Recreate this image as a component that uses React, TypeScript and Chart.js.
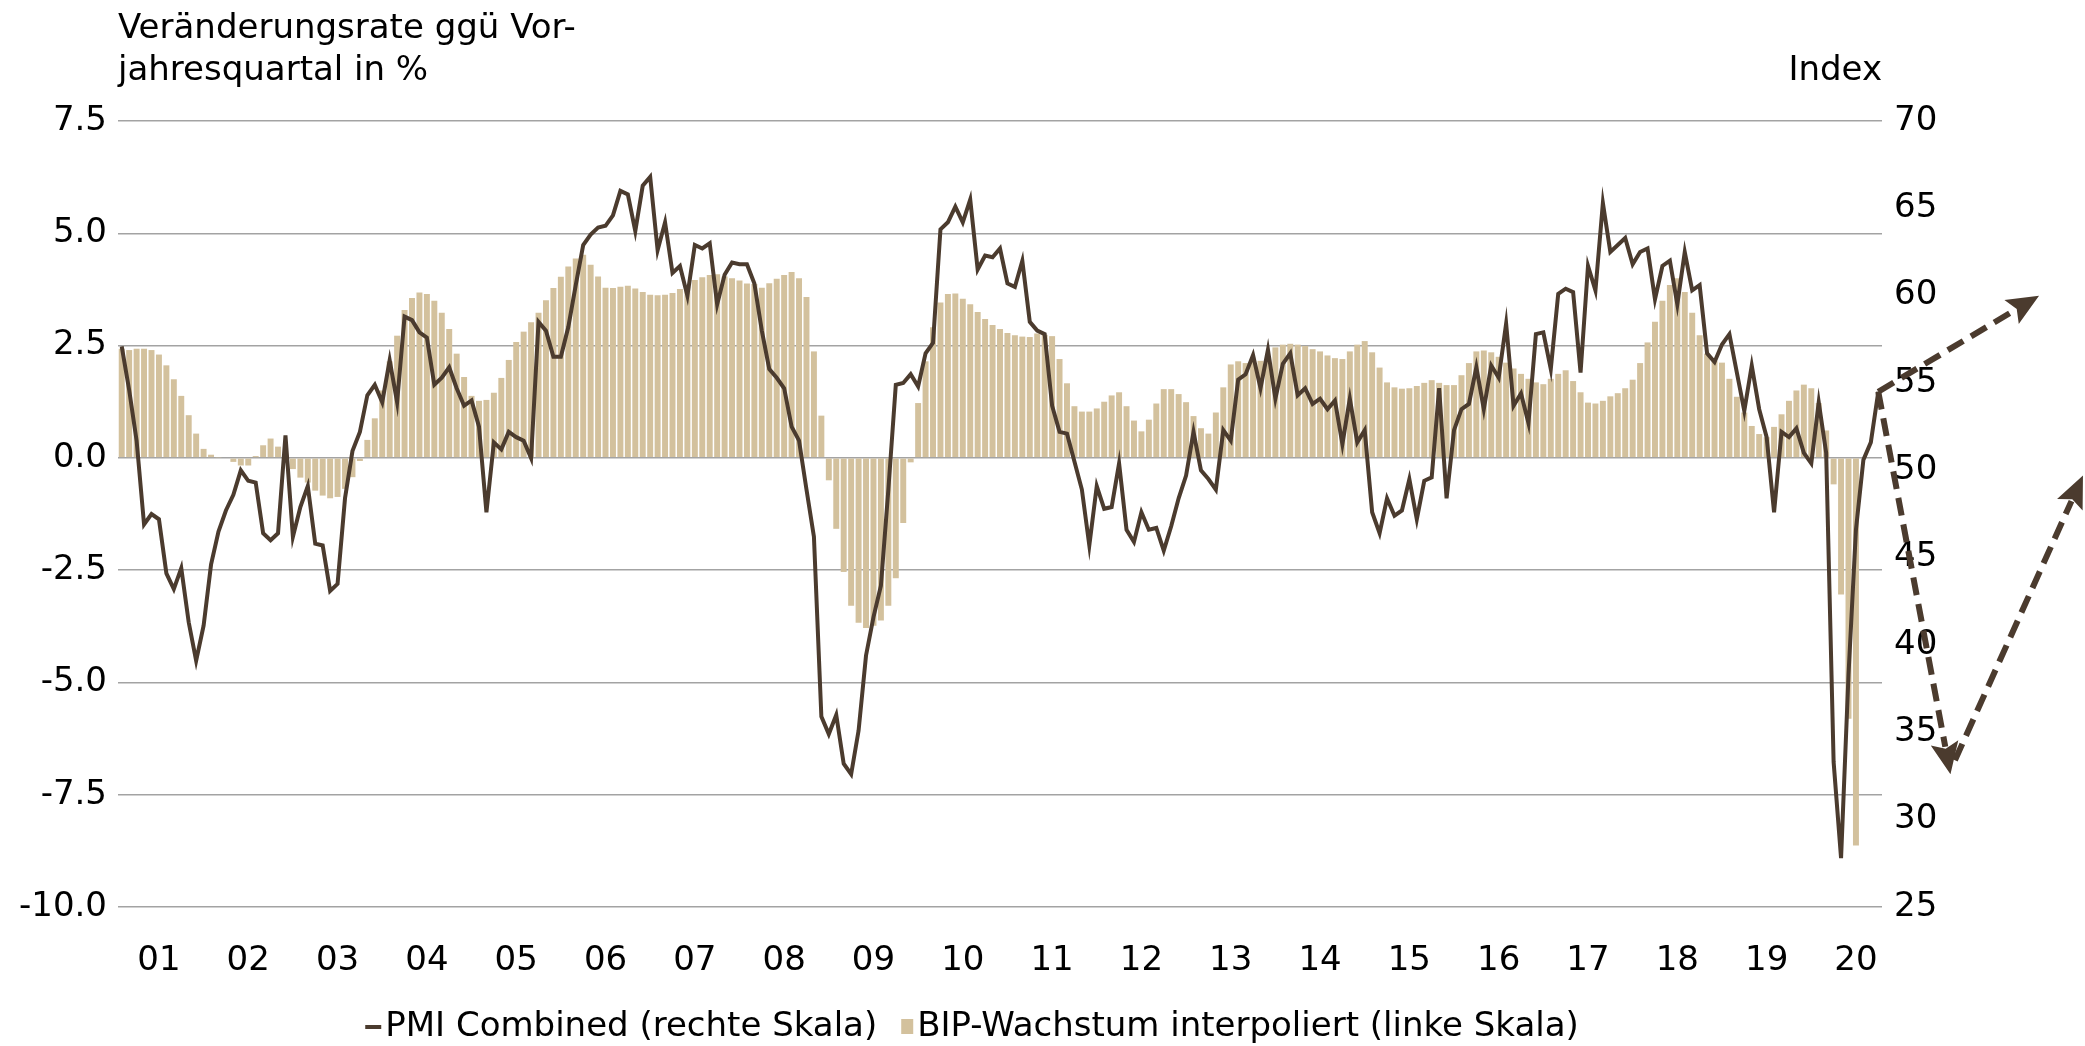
import React, { useEffect, useRef } from 'react';
import { Chart, registerables } from 'chart.js';

Chart.register(...registerables);

// ---------------- data ----------------
const yearLabels = ['01', '02', '03', '04', '05', '06', '07', '08', '09', '10', '11', '12', '13', '14', '15', '16', '17', '18', '19', '20'];

// BIP-Wachstum interpoliert (linke Skala), monthly from Jan 2001
const bipGrowth = [
  2.43, 2.40, 2.43, 2.43, 2.40, 2.30, 2.06, 1.75, 1.38, 0.95, 0.54, 0.20,
  0.07, 0.01, 0.00, -0.09, -0.17, -0.17, 0.04, 0.28, 0.43, 0.25, -0.05, -0.25,
  -0.44, -0.55, -0.73, -0.84, -0.90, -0.87, -0.69, -0.43, -0.07, 0.40, 0.88, 1.50,
  2.15, 2.72, 3.29, 3.56, 3.68, 3.65, 3.50, 3.23, 2.87, 2.32, 1.80, 1.38,
  1.27, 1.29, 1.45, 1.78, 2.18, 2.58, 2.81, 3.02, 3.23, 3.51, 3.78, 4.03,
  4.26, 4.44, 4.52, 4.30, 4.04, 3.79, 3.78, 3.81, 3.83, 3.77, 3.69, 3.63,
  3.62, 3.63, 3.67, 3.76, 3.82, 3.96, 4.02, 4.07, 4.09, 4.04, 4.00, 3.95,
  3.88, 3.87, 3.79, 3.89, 3.99, 4.07, 4.14, 4.00, 3.58, 2.37, 0.94, -0.50,
  -1.58, -2.54, -3.29, -3.67, -3.79, -3.74, -3.62, -3.29, -2.68, -1.45, -0.10, 1.22,
  2.15, 2.91, 3.46, 3.65, 3.66, 3.54, 3.42, 3.25, 3.09, 2.96, 2.87, 2.78,
  2.73, 2.70, 2.69, 2.77, 2.74, 2.71, 2.20, 1.66, 1.15, 1.03, 1.03, 1.10,
  1.25, 1.39, 1.46, 1.15, 0.83, 0.59, 0.85, 1.21, 1.53, 1.53, 1.42, 1.24,
  0.93, 0.66, 0.54, 1.01, 1.57, 2.08, 2.15, 2.11, 2.15, 2.16, 2.23, 2.46,
  2.52, 2.54, 2.52, 2.49, 2.42, 2.37, 2.28, 2.22, 2.20, 2.37, 2.52, 2.60,
  2.35, 2.01, 1.68, 1.57, 1.54, 1.55, 1.60, 1.67, 1.73, 1.67, 1.62, 1.62,
  1.84, 2.11, 2.37, 2.39, 2.35, 2.25, 2.12, 1.99, 1.87, 1.76, 1.68, 1.64,
  1.76, 1.87, 1.95, 1.71, 1.46, 1.23, 1.21, 1.27, 1.37, 1.44, 1.55, 1.74,
  2.11, 2.57, 3.03, 3.50, 3.85, 4.00, 3.69, 3.23, 2.73, 2.32, 2.16, 2.12,
  1.76, 1.36, 1.01, 0.71, 0.53, 0.46, 0.69, 0.97, 1.27, 1.50, 1.63, 1.55,
  1.22, 0.61, -0.59, -3.04, -5.81, -8.63,
];

// PMI Combined (rechte Skala), monthly from Jan 2001
const pmiCombined = [
  57.1, 54.6, 51.7, 46.9, 47.5, 47.2, 44.1, 43.2, 44.4, 41.3, 39.1, 41.1,
  44.6, 46.5, 47.7, 48.6, 50.0, 49.4, 49.3, 46.4, 46.0, 46.4, 52.0, 46.2,
  47.9, 49.1, 45.8, 45.7, 43.1, 43.5, 48.4, 51.1, 52.2, 54.3, 54.9, 53.9,
  56.3, 53.9, 58.8, 58.6, 57.9, 57.6, 54.9, 55.3, 55.9, 54.7, 53.7, 54.0,
  52.5, 47.6, 51.6, 51.2, 52.2, 51.9, 51.7, 50.7, 58.5, 58.0, 56.5, 56.5,
  58.2, 60.6, 62.9, 63.5, 63.9, 64.0, 64.6, 66.0, 65.8, 63.7, 66.3, 66.8,
  62.6, 64.2, 61.3, 61.7, 60.0, 62.9, 62.7, 63.0, 59.5, 61.2, 61.9, 61.8,
  61.8, 60.7, 58.0, 55.8, 55.3, 54.7, 52.5, 51.7, 48.9, 46.2, 35.9, 34.9,
  36.0, 33.2, 32.6, 35.1, 39.4, 41.6, 43.4, 48.9, 54.9, 55.0, 55.5, 54.8,
  56.7, 57.3, 63.8, 64.2, 65.1, 64.2, 65.5, 61.5, 62.3, 62.2, 62.7, 60.7,
  60.5, 62.0, 58.5, 58.0, 57.8, 53.7, 52.2, 52.1, 50.5, 48.9, 45.7, 49.1,
  47.8, 47.9, 50.4, 46.6, 45.9, 47.6, 46.6, 46.7, 45.4, 46.8, 48.4, 49.7,
  52.2, 50.0, 49.5, 48.9, 52.3, 51.7, 55.2, 55.5, 56.6, 54.7, 56.9, 54.1,
  56.1, 56.7, 54.3, 54.7, 53.8, 54.1, 53.5, 54.0, 51.5, 54.1, 51.6, 52.3,
  47.6, 46.4, 48.4, 47.4, 47.7, 49.5, 47.2, 49.4, 49.6, 54.7, 48.4, 52.3,
  53.5, 53.8, 55.9, 53.5, 56.0, 55.3, 58.4, 53.7, 54.4, 52.7, 57.8, 57.9,
  55.8, 60.1, 60.4, 60.2, 55.6, 61.7, 60.3, 65.3, 62.5, 62.9, 63.3, 61.8,
  62.5, 62.7, 59.8, 61.7, 62.0, 59.5, 62.5, 60.3, 60.6, 56.7, 56.2, 57.2,
  57.8, 55.6, 53.4, 56.0, 53.5, 51.9, 47.6, 52.2, 51.9, 52.4, 51.0, 50.4,
  53.9, 51.0, 33.3, 27.8, 38.3, 46.6, 50.6, 51.6, 54.5,
];

const leftTicks = [-10, -7.5, -5, -2.5, 0, 2.5, 5, 7.5];
const rightTicks = [25, 30, 35, 40, 45, 50, 55, 60, 65, 70];

// Szenario-Pfeile: [Monatsindex, Indexwert] (rechte Skala)
const scenarioArrows = [
  { from: [236, 54.5], to: [257.6, 60.0] },
  { from: [236, 54.5], to: [245.7, 32.6] },
  { from: [246.3, 33.4], to: [263.5, 49.7] },
];

const titleLines = ['Veränderungsrate ggü Vor-', 'jahresquartal in %'];
const rightAxisTitle = 'Index';
const legendItems = ['PMI Combined (rechte Skala)', 'BIP-Wachstum interpoliert (linke Skala)'];

// ---------------- style ----------------
const W = 2085;
const H = 1046;
const FONT = '"DejaVu Sans", sans-serif';
const LINE_COLOR = '#4b3b2e';
const BAR_COLOR = '#d3c19d';
const GRID_COLOR = '#a3a3a3';

const overlayPlugin = {
  id: 'overlay',
  afterDraw(chart: any) {
    const { ctx, scales, chartArea } = chart;
    const xs = scales.x;
    const ys = scales.y1;
    ctx.save();

    // titles
    ctx.fillStyle = '#000';
    ctx.font = `34px ${FONT}`;
    ctx.textBaseline = 'alphabetic';
    ctx.textAlign = 'left';
    ctx.fillText(titleLines[0], chartArea.left, 38);
    ctx.fillText(titleLines[1], chartArea.left, 80);
    ctx.textAlign = 'right';
    ctx.fillText(rightAxisTitle, chartArea.right, 80);

    // legend
    ctx.font = `34px ${FONT}`;
    ctx.textAlign = 'left';
    ctx.textBaseline = 'middle';
    const lineMarkW = 16;
    const boxMarkW = 12;
    const gapMark = 4;
    const gapItems = 24;
    const w1 = ctx.measureText(legendItems[0]).width;
    const w2 = ctx.measureText(legendItems[1]).width;
    const total = lineMarkW + gapMark + w1 + gapItems + boxMarkW + gapMark + w2;
    const cy = 1027;
    let lx = 972 - total / 2;
    ctx.fillStyle = LINE_COLOR;
    ctx.fillRect(lx, cy - 2, lineMarkW, 4);
    lx += lineMarkW + gapMark;
    ctx.fillStyle = '#000';
    ctx.fillText(legendItems[0], lx, cy);
    lx += w1 + gapItems;
    ctx.fillStyle = BAR_COLOR;
    ctx.fillRect(lx, cy - 8, boxMarkW, 15);
    lx += boxMarkW + gapMark;
    ctx.fillStyle = '#000';
    ctx.fillText(legendItems[1], lx, cy);

    // scenario arrows
    ctx.strokeStyle = LINE_COLOR;
    ctx.fillStyle = LINE_COLOR;
    ctx.lineWidth = 6;
    ctx.lineCap = 'butt';
    const headLen = 32;
    const headW = 28;
    for (const a of scenarioArrows) {
      const x0 = xs.getPixelForValue(a.from[0]);
      const y0 = ys.getPixelForValue(a.from[1]);
      const x1 = xs.getPixelForValue(a.to[0]);
      const y1 = ys.getPixelForValue(a.to[1]);
      const ang = Math.atan2(y1 - y0, x1 - x0);
      const c = Math.cos(ang);
      const s = Math.sin(ang);
      const bx = x1 - headLen * c;
      const by = y1 - headLen * s;
      ctx.setLineDash([18, 9]);
      ctx.beginPath();
      ctx.moveTo(x0, y0);
      ctx.lineTo(bx + 4 * c, by + 4 * s);
      ctx.stroke();
      ctx.setLineDash([]);
      ctx.beginPath();
      ctx.moveTo(x1, y1);
      ctx.lineTo(bx - (headW / 2) * s, by + (headW / 2) * c);
      ctx.lineTo(bx + 6 * c, by + 6 * s);
      ctx.lineTo(bx + (headW / 2) * s, by - (headW / 2) * c);
      ctx.closePath();
      ctx.fill();
    }
    ctx.restore();
  },
};

export default function App() {
  const canvasRef = useRef<HTMLCanvasElement | null>(null);

  useEffect(() => {
    const canvas = canvasRef.current;
    if (!canvas) return;
    const barData = bipGrowth.map((v, i) => ({ x: i, y: v }));
    const lineData = pmiCombined.map((v, i) => ({ x: i, y: v }));
    const nMonths = pmiCombined.length;

    const chart = new Chart(canvas, {
      type: 'bar',
      data: {
        datasets: [
          {
            type: 'line',
            label: legendItems[0],
            data: lineData as any,
            yAxisID: 'y1',
            borderColor: LINE_COLOR,
            borderWidth: 4,
            pointRadius: 0,
            tension: 0,
            order: 0,
          } as any,
          {
            type: 'bar',
            label: legendItems[1],
            data: barData as any,
            yAxisID: 'y',
            backgroundColor: BAR_COLOR,
            borderWidth: 0,
            barPercentage: 0.8,
            categoryPercentage: 1.0,
            order: 1,
          } as any,
        ],
      },
      options: {
        animation: false,
        responsive: false,
        devicePixelRatio: 1,
        layout: { padding: { top: 121, bottom: 0, left: 0, right: 0 } },
        plugins: {
          legend: { display: false },
          title: { display: false },
          tooltip: { enabled: false },
        },
        scales: {
          x: {
            type: 'linear',
            offset: false,
            min: -0.5,
            max: nMonths - 0.5,
            grid: { display: false, offset: false },
            border: { display: false },
            afterBuildTicks: (s: any) => {
              s.ticks = yearLabels.map((_, k) => ({ value: 12 * k + 5 }));
            },
            afterFit: (s: any) => {
              s.height = H - 907;
            },
            ticks: {
              autoSkip: false,
              maxRotation: 0,
              minRotation: 0,
              padding: 26,
              color: '#000',
              font: { family: FONT, size: 34 },
              callback: (v: any) => yearLabels[Math.round((Number(v) - 5) / 12)] ?? '',
            },
          },
          y: {
            type: 'linear',
            position: 'left',
            min: -10,
            max: 7.5,
            afterBuildTicks: (s: any) => {
              s.ticks = leftTicks.map((v) => ({ value: v }));
            },
            afterFit: (s: any) => {
              s.width = 118;
            },
            grid: { color: GRID_COLOR, lineWidth: 1.5, drawTicks: false },
            border: { display: false },
            ticks: {
              padding: 11,
              color: '#000',
              font: { family: FONT, size: 34 },
              callback: (v: any) => Number(v).toFixed(1),
            },
          },
          y1: {
            type: 'linear',
            position: 'right',
            min: 25,
            max: 70,
            afterBuildTicks: (s: any) => {
              s.ticks = rightTicks.map((v) => ({ value: v }));
            },
            afterFit: (s: any) => {
              s.width = W - 1882;
            },
            grid: { display: false, drawTicks: false },
            border: { display: false },
            ticks: {
              padding: 12,
              color: '#000',
              font: { family: FONT, size: 34 },
              callback: (v: any) => String(v),
            },
          },
        },
      },
      plugins: [overlayPlugin],
    });
    return () => chart.destroy();
  }, []);

  return (
    <canvas
      ref={canvasRef}
      width={W}
      height={H}
      style={{ position: 'absolute', left: 0, top: 0, width: W, height: H }}
    />
  );
}
